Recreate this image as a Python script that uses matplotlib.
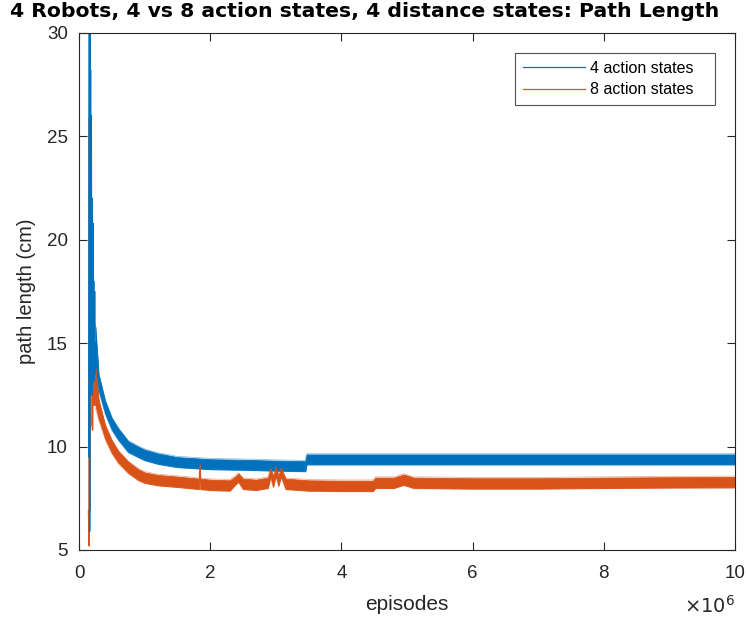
import matplotlib
matplotlib.use('Agg')
import matplotlib.pyplot as plt
import numpy as np

plt.rcParams['font.family'] = ['Liberation Sans', 'DejaVu Sans']

BLUE = '#0072BD'
ORANGE = '#D95319'

# early spikes (episodes in millions, path length in cm)
blue_spike_x = [0.150, 0.158, 0.162, 0.166, 0.170, 0.176, 0.182, 0.188, 0.194, 0.200,
                0.206, 0.212, 0.218, 0.224, 0.230, 0.238, 0.246, 0.254]
blue_spike_y = [9.5, 31.0, 5.9, 31.0, 12.5, 28.2, 13.0, 26.0, 12.5, 22.0,
                13.0, 20.8, 13.5, 18.0, 13.2, 17.5, 13.5, 15.0]
orange_spike_x = [0.145, 0.152, 0.158, 0.164, 0.170, 0.176, 0.182, 0.190, 0.198, 0.206,
                  0.214, 0.222, 0.232, 0.242, 0.252]
orange_spike_y = [6.9, 5.2, 25.9, 6.9, 22.0, 11.0, 18.0, 14.5, 16.5, 10.8,
                  15.0, 12.0, 14.5, 12.0, 13.5]

# noisy plateau: centre line and half width of the noise band
blue_x = [0.25, 0.30, 0.40, 0.50, 0.60, 0.75, 0.90, 1.00, 1.20, 1.50, 2.00, 2.50,
          3.00, 3.45, 3.47, 4.00, 5.00, 6.00, 7.00, 8.00, 9.00, 10.00]
blue_y = [14.8, 13.1, 11.9, 11.1, 10.6, 10.0, 9.75, 9.6, 9.42, 9.25, 9.15, 9.12,
          9.08, 9.05, 9.38, 9.38, 9.38, 9.38, 9.38, 9.38, 9.38, 9.38]
blue_w = [1.0, 0.38, 0.3, 0.28, 0.27, 0.26, 0.25, 0.25, 0.25, 0.24, 0.24, 0.24,
          0.24, 0.24, 0.24, 0.24, 0.24, 0.24, 0.24, 0.24, 0.24, 0.24]

orange_x = [0.25, 0.30, 0.40, 0.50, 0.60, 0.75, 0.90, 1.00, 1.20, 1.50, 1.83, 1.84,
            1.85, 2.00, 2.30, 2.38, 2.43, 2.50, 2.70, 2.88, 2.92, 2.96, 3.00, 3.04,
            3.08, 3.15, 3.50, 4.00, 4.48, 4.52, 4.80, 4.95, 5.10, 6.00, 7.00, 8.00,
            9.00, 10.00]
orange_y = [12.9, 11.8, 10.7, 10.0, 9.5, 9.0, 8.65, 8.5, 8.38, 8.3, 8.2, 9.05,
            8.2, 8.15, 8.12, 8.35, 8.5, 8.2, 8.15, 8.25, 8.75, 8.3, 8.8, 8.35,
            8.75, 8.2, 8.12, 8.1, 8.1, 8.25, 8.25, 8.4, 8.25, 8.22, 8.22, 8.25,
            8.27, 8.28]
orange_w = [0.9, 0.45, 0.32, 0.3, 0.28, 0.27, 0.26, 0.25, 0.25, 0.25, 0.25, 0.1,
            0.25, 0.25, 0.25, 0.2, 0.2, 0.25, 0.25, 0.25, 0.2, 0.25, 0.2, 0.25,
            0.2, 0.25, 0.25, 0.25, 0.25, 0.25, 0.25, 0.25, 0.25, 0.25, 0.25, 0.25,
            0.25, 0.25]

fig = plt.figure(figsize=(7.46, 6.19), dpi=100)
ax = fig.add_axes([0.1059, 0.1115, 0.8794, 0.8352])


def band(x, y, w, color):
    x = np.array(x)
    y = np.array(y)
    w = np.array(w)
    ax.fill_between(x, y - w, y + w, color=color, lw=0.6, edgecolor=color)
    ax.plot(x, y + w * 1.15, color=color, lw=0.6, alpha=0.45)
    ax.plot(x, y - w * 1.15, color=color, lw=0.6, alpha=0.45)


band(blue_x, blue_y, blue_w, BLUE)
band(orange_x, orange_y, orange_w, ORANGE)
ax.plot(orange_spike_x, orange_spike_y, color=ORANGE, lw=1.0)
ax.plot(blue_spike_x, blue_spike_y, color=BLUE, lw=1.0)

# legend handles
l1, = ax.plot([], [], color=BLUE, lw=0.9, label='4 action states   ')
l2, = ax.plot([], [], color=ORANGE, lw=0.9, label='8 action states   ')
leg = ax.legend(handles=[l1, l2], loc='upper right', bbox_to_anchor=(0.9695, 0.9613),
                fontsize=11.5, frameon=True, fancybox=False, edgecolor='#262626',
                handlelength=3.9, handletextpad=0.3, borderpad=0.5, labelspacing=0.4,
                borderaxespad=0)
leg.get_frame().set_linewidth(0.8)

ax.set_xlim(0, 10)
ax.set_ylim(5, 30)
ax.set_xticks([0, 2, 4, 6, 8, 10])
ax.set_yticks([5, 10, 15, 20, 25, 30])
ax.tick_params(direction='in', top=True, right=True, length=6, width=0.8,
               labelsize=13.5, colors='#262626')
ax.tick_params(axis='x', pad=11)
ax.tick_params(axis='y', pad=8)
for s in ax.spines.values():
    s.set_color('#262626')
    s.set_linewidth(0.8)

ax.set_xlabel('episodes', fontsize=15, color='#262626', labelpad=9)
ax.set_ylabel('path length (cm)', fontsize=14.5, color='#262626', labelpad=8)
ax.text(1.0, -0.108, r'$\times10^{6}$', transform=ax.transAxes, ha='right', va='center',
        fontsize=14, color='#262626')
fig.text(0.014, 0.982, '4 Robots, 4 vs 8 action states, 4 distance states: Path Length',
         ha='left', va='center', fontsize=14.7, fontweight='bold',
         family=['DejaVu Sans'])

fig.savefig('out.png', dpi=100)
